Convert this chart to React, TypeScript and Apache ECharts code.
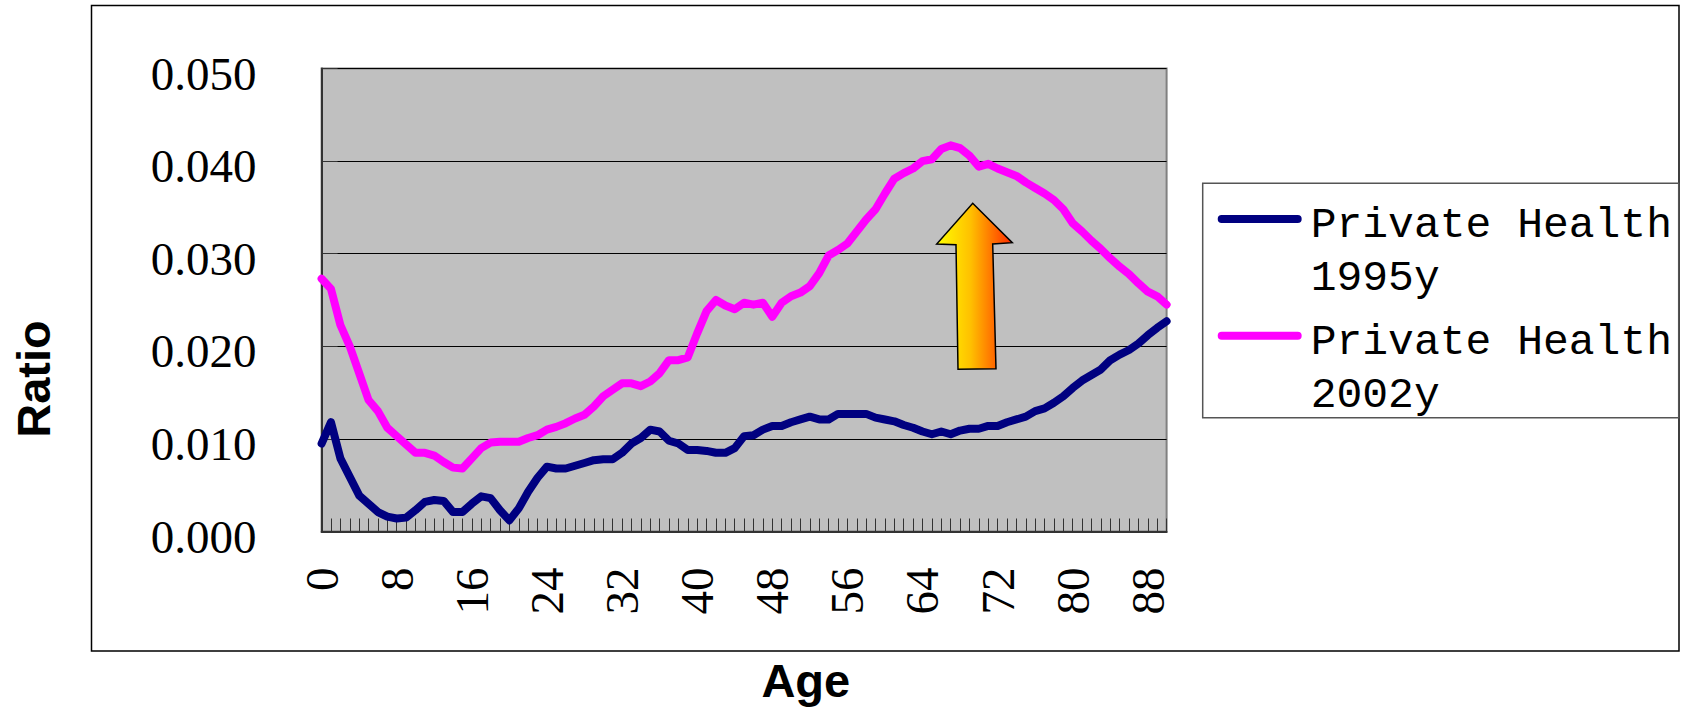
import React, { useEffect, useRef } from 'react';
import * as echarts from 'echarts';

// Categories: ages 0..90
const ages: string[] = Array.from({ length: 91 }, (_, i) => String(i));

const yTickLabels = ['0.000', '0.010', '0.020', '0.030', '0.040', '0.050'];

const seriesNames = ['Private Health 1995y', 'Private Health 2002y'];

const health1995 = [
  0.0095, 0.0118, 0.0079, 0.0059, 0.0039, 0.0030, 0.0021, 0.0016, 0.0014, 0.0015,
  0.0023, 0.0032, 0.0034, 0.0033, 0.0021, 0.0021, 0.0030, 0.0038, 0.0036, 0.0023,
  0.0012, 0.0025, 0.0043, 0.0058, 0.0070, 0.0068, 0.0068, 0.0071, 0.0074, 0.0077,
  0.0078, 0.0078, 0.0085, 0.0095, 0.0101, 0.0110, 0.0108, 0.0098, 0.0095, 0.0088,
  0.0088, 0.0087, 0.0085, 0.0085, 0.0090, 0.0103, 0.0104, 0.0110, 0.0114, 0.0114,
  0.0118, 0.0121, 0.0124, 0.0121, 0.0121, 0.0127, 0.0127, 0.0127, 0.0127, 0.0123,
  0.0121, 0.0119, 0.0115, 0.0112, 0.0108, 0.0105, 0.0108, 0.0105, 0.0109, 0.0111,
  0.0111, 0.0114, 0.0114, 0.0118, 0.0121, 0.0124, 0.0130, 0.0133, 0.0139, 0.0146,
  0.0155, 0.0163, 0.0169, 0.0175, 0.0185, 0.0191, 0.0196, 0.0203, 0.0212, 0.0220,
  0.0227,
];

const health2002 = [
  0.0273, 0.0262, 0.0223, 0.0200, 0.0171, 0.0142, 0.0130, 0.0112, 0.0103, 0.0094,
  0.0085, 0.0085, 0.0082, 0.0075, 0.0069, 0.0068, 0.0079, 0.0090, 0.0096, 0.0097,
  0.0097, 0.0097, 0.0101, 0.0104, 0.0110, 0.0113, 0.0117, 0.0122, 0.0126, 0.0135,
  0.0146, 0.0153, 0.0160, 0.0160, 0.0157, 0.0162, 0.0171, 0.0185, 0.0185, 0.0188,
  0.0214, 0.0238, 0.0250, 0.0244, 0.0240, 0.0247, 0.0245, 0.0247, 0.0232, 0.0247,
  0.0254, 0.0258, 0.0265, 0.0279, 0.0298, 0.0304, 0.0311, 0.0324, 0.0337, 0.0348,
  0.0365, 0.0381, 0.0387, 0.0392, 0.0400, 0.0402, 0.0413, 0.0417, 0.0414, 0.0406,
  0.0394, 0.0397, 0.0392, 0.0388, 0.0384, 0.0377, 0.0371, 0.0365, 0.0358, 0.0348,
  0.0333, 0.0324, 0.0314, 0.0305, 0.0295, 0.0286, 0.0278, 0.0268, 0.0259, 0.0254,
  0.0245,
];

const xLabelStep = 8;

const colors = ['#000080', '#FF00FF'];

const legendIcon =
  'path://M0,0 L0.01,0 M88,0 L88.01,0 M0,106 L0.01,106 ' +
  'M4,16.2 L80,16.2 A4,4 0 0 1 80,24.2 L4,24.2 A4,4 0 0 1 4,16.2 Z';

export default function App() {
  const ref = useRef<HTMLDivElement>(null);

  useEffect(() => {
    document.body.style.margin = '0';
    const chart = echarts.init(ref.current!, null, { renderer: 'svg' });

    const option: any = {
      animation: false,
      backgroundColor: '#ffffff',
      grid: {
        left: 321.6,
        top: 68.5,
        width: 845,
        height: 463,
        show: true,
        backgroundColor: '#C0C0C0',
        borderColor: '#808080',
        borderWidth: 2,
        containLabel: false,
        outerBoundsMode: 'none',
      },
      legend: {
        orient: 'vertical',
        left: 1217.7,
        top: 198.8,
        itemWidth: 88,
        itemHeight: 106,
        itemGap: 10.7,
        icon: legendIcon,
        itemStyle: { borderWidth: 0 },
        padding: 0,
        textStyle: {
          fontFamily: 'Liberation Mono',
          fontSize: 43,
          lineHeight: 53,
          color: '#000',
        },
        formatter: (name: string) => name.replace(/ (\S+)$/, '\n$1'),
        data: seriesNames,
      },
      xAxis: {
        type: 'category',
        data: ages,
        boundaryGap: false,
        axisLine: { show: true, lineStyle: { color: '#333', width: 2 } },
        axisTick: {
          show: true,
          inside: true,
          length: 13,
          interval: 0,
          lineStyle: { color: '#333', width: 1 },
        },
        axisLabel: {
          interval: (index: number) => index % xLabelStep === 0,
          rotate: 90,
          margin: 36,
          hideOverlap: false,
          fontFamily: 'Liberation Serif',
          fontSize: 47,
          color: '#000',
        },
        splitLine: { show: false },
      },
      yAxis: {
        type: 'value',
        min: 0,
        max: 0.05,
        interval: 0.01,
        axisLine: { show: true, lineStyle: { color: '#333', width: 2 } },
        axisTick: {
          show: true,
          inside: true,
          length: 16,
          lineStyle: { color: '#333', width: 1 },
        },
        axisLabel: {
          margin: 65,
          formatter: (v: number) => yTickLabels[Math.round(v / 0.01)],
          fontFamily: 'Liberation Serif',
          fontSize: 47,
          color: '#000',
          verticalAlign: 'top',
          lineHeight: 10,
        },
        splitLine: { show: true, lineStyle: { color: '#000', width: 1 } },
      },
      series: [
        {
          name: seriesNames[0],
          type: 'line',
          data: health1995,
          showSymbol: false,
          symbol: 'none',
          color: colors[0],
          lineStyle: { color: colors[0], width: 8, cap: 'round', join: 'round' },
          z: 3,
        },
        {
          name: seriesNames[1],
          type: 'line',
          data: health2002,
          showSymbol: false,
          symbol: 'none',
          color: colors[1],
          lineStyle: { color: colors[1], width: 8, cap: 'round', join: 'round' },
          z: 4,
        },
      ],
      graphic: [
        {
          type: 'rect',
          shape: { x: 91.5, y: 5.5, width: 1587.5, height: 645.5 },
          style: { fill: 'none', stroke: '#000', lineWidth: 1.5 },
          z: 100,
          silent: true,
        },
        {
          type: 'rect',
          shape: { x: 1202.7, y: 183.3, width: 476, height: 234.4 },
          style: { fill: 'none', stroke: '#555', lineWidth: 1.5 },
          z: 100,
          silent: true,
        },
        {
          type: 'polygon',
          shape: {
            points: [
              [972.7, 203.3],
              [1012.3, 242.7],
              [992.7, 244],
              [996, 368.7],
              [958, 369.3],
              [956, 244.7],
              [936.7, 244],
            ],
          },
          style: {
            fill: new echarts.graphic.LinearGradient(0, 0, 1, 0, [
              { offset: 0, color: '#FFFF00' },
              { offset: 0.45, color: '#FFC000' },
              { offset: 1, color: '#FF2A00' },
            ]),
            stroke: '#000',
            lineWidth: 1.5,
          },
          z: 100,
          silent: true,
        },
        {
          type: 'text',
          x: 33.7,
          y: 379,
          rotation: Math.PI / 2,
          style: {
            text: 'Ratio',
            fontFamily: 'Liberation Sans',
            fontWeight: 'bold',
            fontSize: 47,
            fill: '#000',
            align: 'center',
            verticalAlign: 'middle',
          },
          z: 100,
        },
        {
          type: 'text',
          x: 805.8,
          y: 680.5,
          style: {
            text: 'Age',
            fontFamily: 'Liberation Sans',
            fontWeight: 'bold',
            fontSize: 47,
            fill: '#000',
            align: 'center',
            verticalAlign: 'middle',
          },
          z: 100,
        },
      ],
    };

    chart.setOption(option);
    return () => chart.dispose();
  }, []);

  return (
    <div
      ref={ref}
      style={{ position: 'absolute', left: 0, top: 0, width: 1682, height: 709 }}
    />
  );
}
